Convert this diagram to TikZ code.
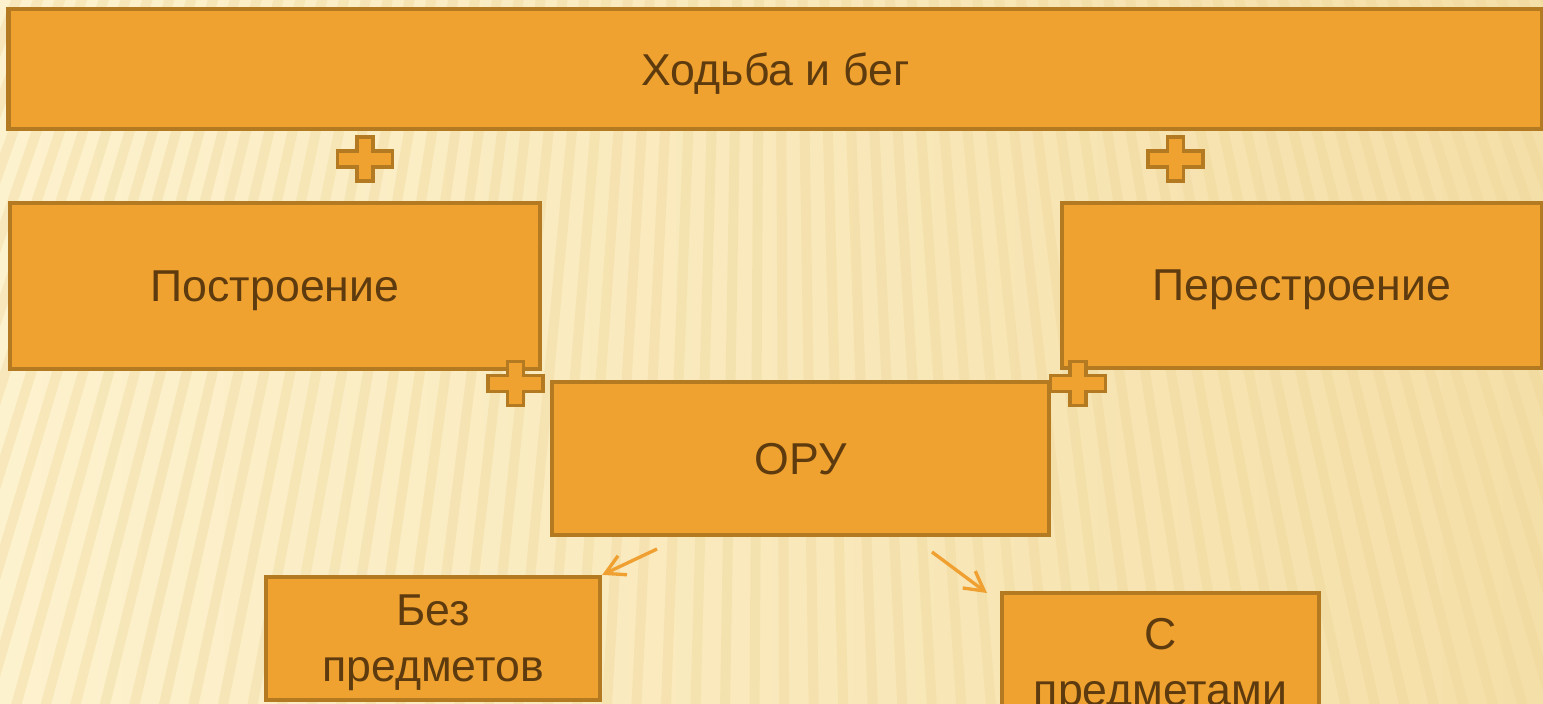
\documentclass[tikz,border=0pt]{standalone}
\usepackage{fontspec}
\setmainfont{Liberation Sans}
\usetikzlibrary{positioning, arrows.meta}
\definecolor{boxfill}{HTML}{EFA22F}
\definecolor{boxline}{HTML}{B47A22}
\definecolor{boxtext}{HTML}{5E3B0F}
\definecolor{arrowcol}{HTML}{F0A030}
\definecolor{paper}{HTML}{FDF2CE}
\definecolor{paperdark}{HTML}{F5DFA8}
\definecolor{stripe}{HTML}{EDD596}

\begin{document}
\begin{tikzpicture}[
    x = 0.01cm, y = -0.01cm,
    box/.style={rectangle, draw=boxline, fill=boxfill, line width=1.2pt, text=boxtext,
                align=center, inner sep=0pt, text depth=0pt, font=\fontsize{12.7}{15.9}\selectfont},
    arr/.style={-{Straight Barb[length=1.9mm, width=2.1mm]}, draw=arrowcol, line width=0.95pt},
    plussign/.pic={
        \draw[draw=boxline, fill=boxfill, line width=1.1pt]
            (-27.5,-8) -- (-8,-8) -- (-8,-22) -- (8,-22) -- (8,-8) -- (27.5,-8)
            -- (27.5,8) -- (8,8) -- (8,22) -- (-8,22) -- (-8,8) -- (-27.5,8) -- cycle;
    }
]
\useasboundingbox (0,0) rectangle (1543,703);
\begin{scope}
\clip (0,0) rectangle (1543,703);

% background with stripes
\shade[left color=paper, right color=paperdark] (0,0) rectangle (1543,703);
\foreach \k in {-20,...,80}
    \draw[stripe, line width=0.1cm, opacity=0.35] (771,-2000) -- ({771+(\k*27-771)*1.1}, 720);

% boxes
\node[box, minimum width=15.33cm, minimum height=1.2cm] (walk) at (775.5,69) {Ходьба и бег};
\node[box, minimum width=5.3cm, minimum height=1.66cm] (build) at (275,286) {Построение};
\node[box, minimum width=4.8cm, minimum height=1.65cm] (rebuild) at (1302,285.5) {Перестроение};
\node[box, minimum width=4.97cm, minimum height=1.53cm] (oru) at (800.5,458.5) {ОРУ};
\node[box, minimum width=3.34cm, minimum height=1.23cm] (noitems) at (433,638.5) {Без\\предметов};
\node[box, minimum width=3.17cm, minimum height=1.38cm] (withitems) at (1160.5,662) {С\\предметами};

% plus marks
\pic at (365,159) {plussign};
\pic at (1175.5,159) {plussign};
\pic at (515.5,383.5) {plussign};
\pic at (1078,383.5) {plussign};

% arrows
\coordinate (left0) at (657,549);
\coordinate (right0) at (932,552);
\coordinate (right1) at (987,593);
\draw[arr] (left0) -- (noitems.north east);
\draw[arr] (right0) -- (right1);
\end{scope}
\end{tikzpicture}
\end{document}
